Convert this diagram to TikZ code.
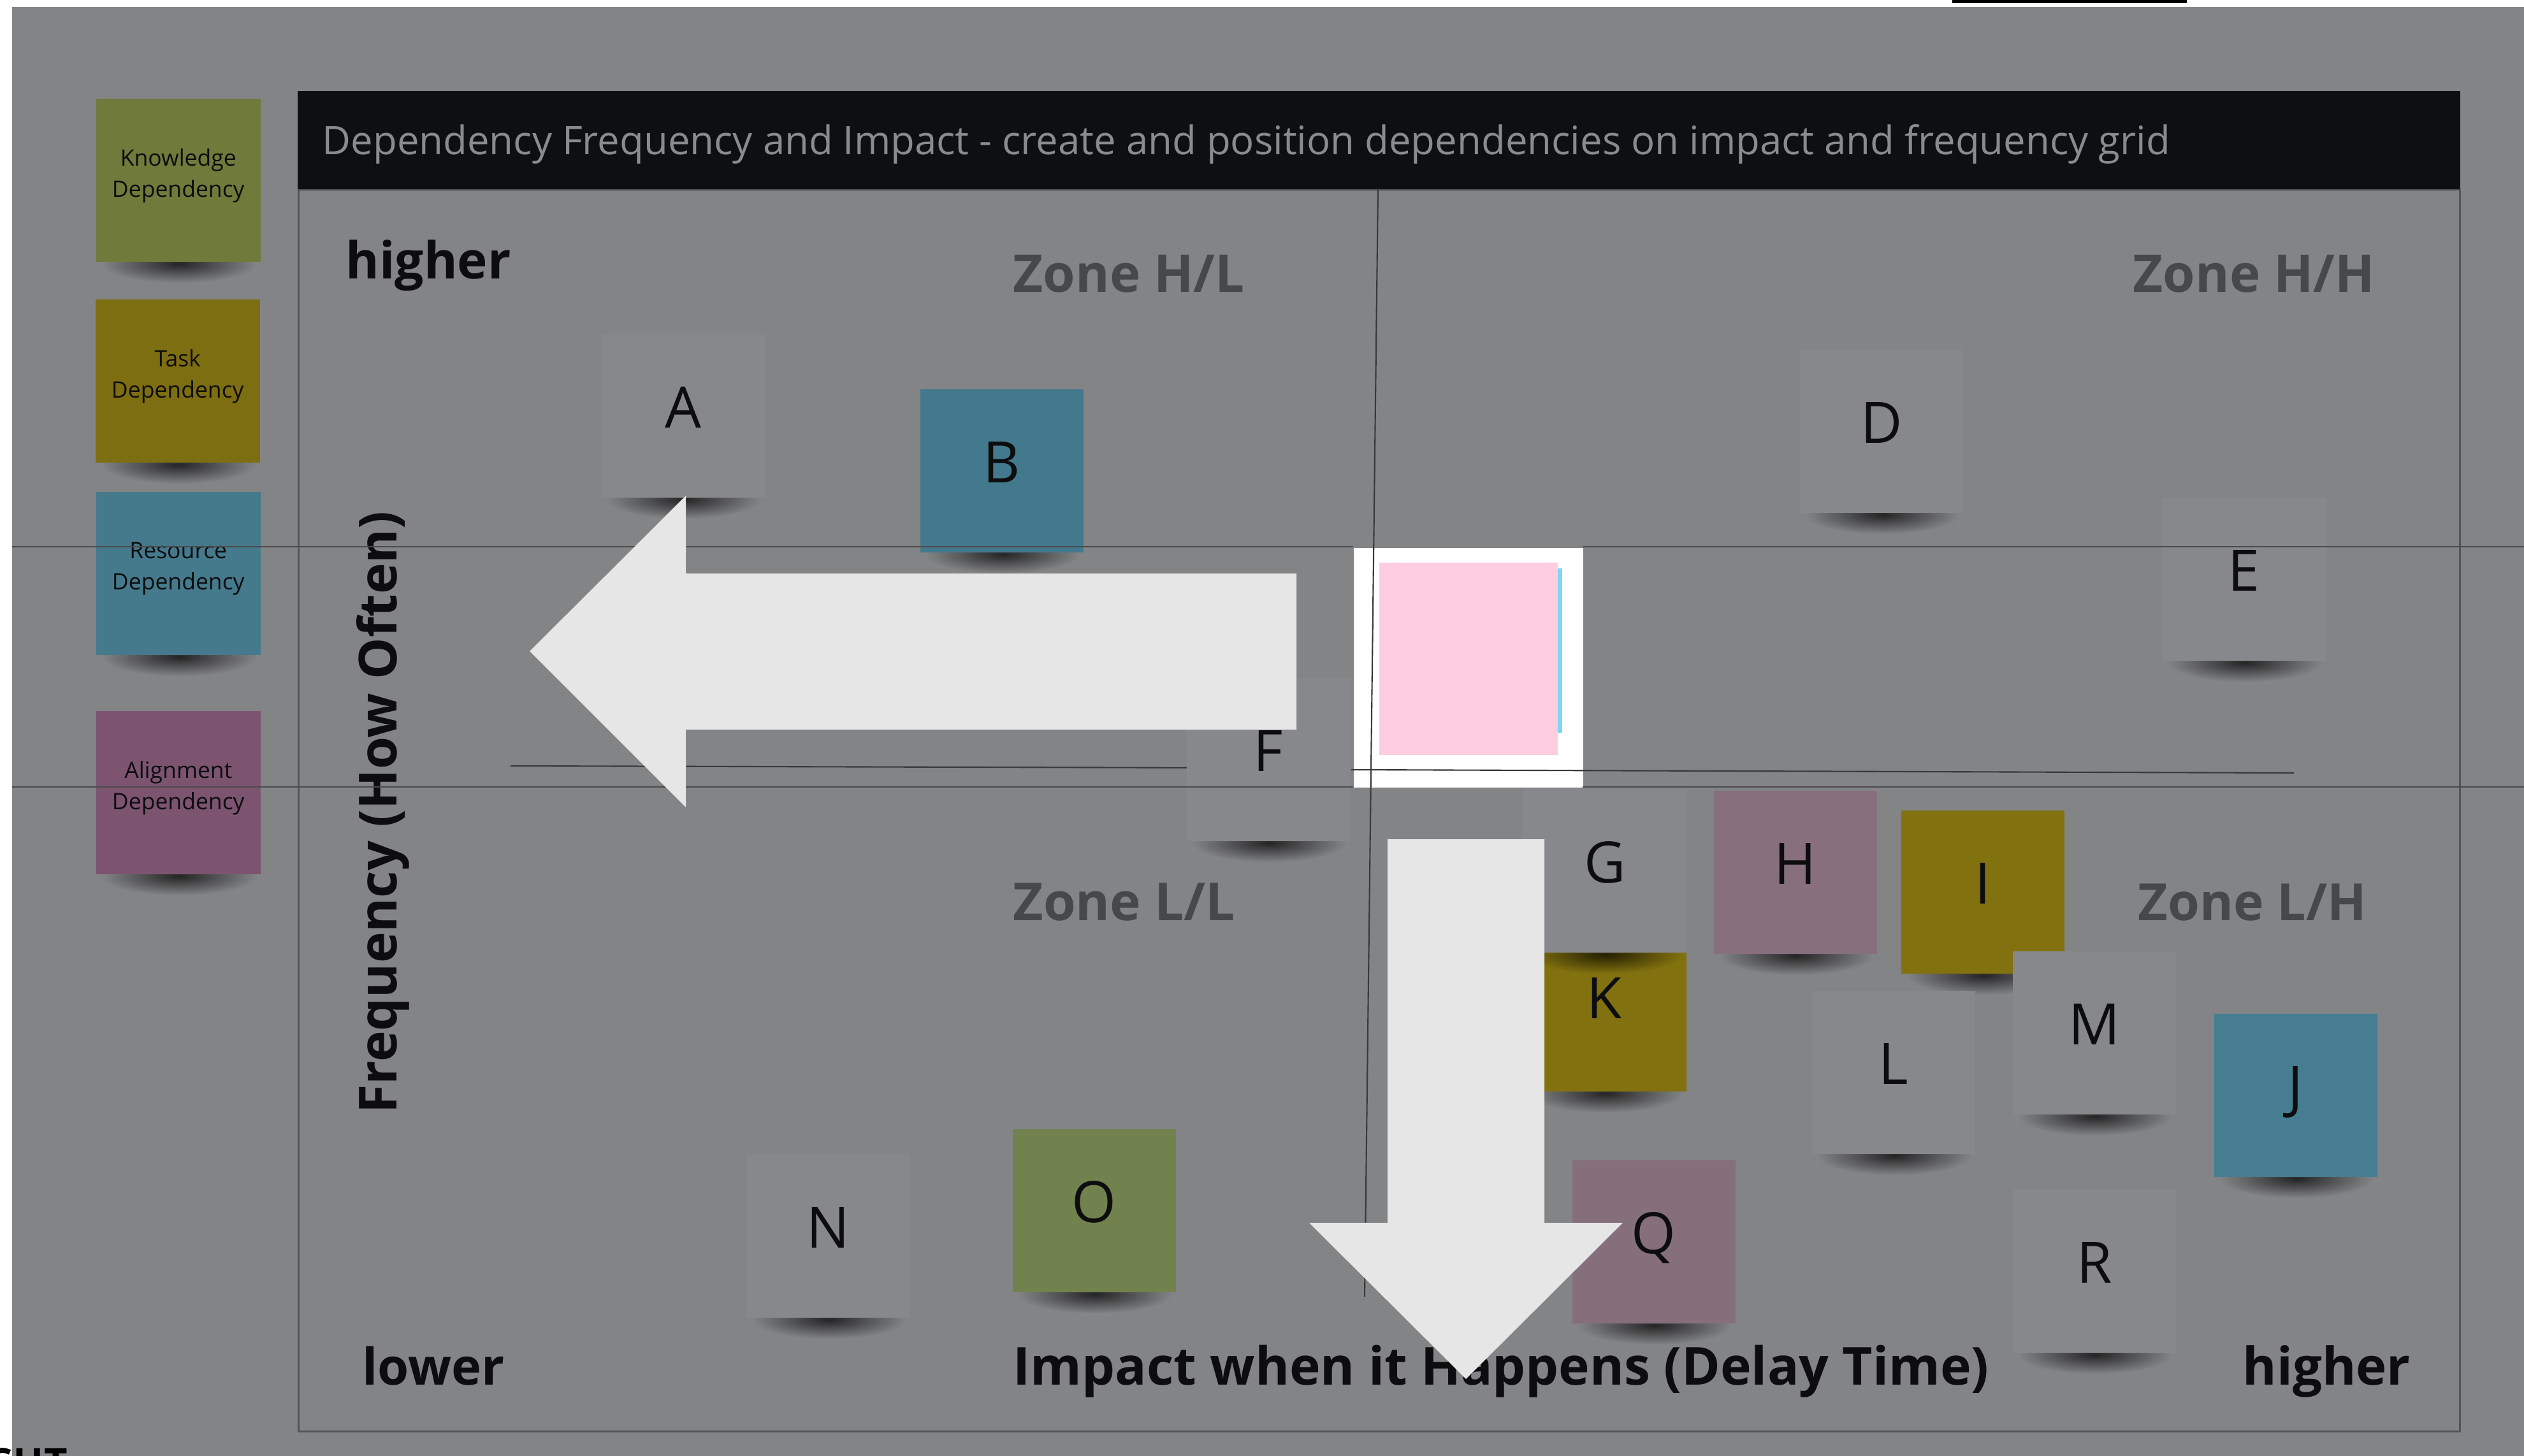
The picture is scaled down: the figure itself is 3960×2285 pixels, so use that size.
\documentclass[tikz,border=0pt]{standalone}
\usepackage{fontspec}
\setmainfont{Open Sans}
\usepackage{graphicx}
\usetikzlibrary{fadings}
\definecolor{bgray}{HTML}{838486}
\definecolor{graystk}{HTML}{86888B}
\definecolor{framec}{HTML}{535456}
\definecolor{headc}{HTML}{0E0F11}
\definecolor{headtxt}{HTML}{8A8B8C}
\definecolor{zonetxt}{HTML}{47484A}
\definecolor{ink}{HTML}{0D0D0F}
\definecolor{arrowc}{HTML}{E6E6E6}
\definecolor{pinkc}{HTML}{FFCDE0}
\definecolor{bluestrip}{HTML}{7DD6F3}
\definecolor{seamc}{HTML}{4A4B4D}
\definecolor{quadc}{HTML}{38393B}
\definecolor{kgreen}{HTML}{6F7A3B}
\definecolor{ogreen}{HTML}{72824E}
\definecolor{tyellow}{HTML}{7E6E12}
\definecolor{iyellow}{HTML}{82710F}
\definecolor{rblue}{HTML}{45798C}
\definecolor{bblue}{HTML}{43798C}
\definecolor{jblue}{HTML}{467D91}
\definecolor{apurple}{HTML}{7C5470}
\definecolor{hpink}{HTML}{886F7D}
\definecolor{qpink}{HTML}{856F7B}
\tikzfading[name=softshadow, inner color=transparent!10, outer color=transparent!100]
\tikzset{
 stk/.style={rectangle, inner sep=0pt, minimum width=2.56cm, minimum height=2.56cm, draw=none},
 lbl/.style={inner sep=0pt, text=ink, font=\fontsize{25.5}{30}\selectfont},
 leg/.style={inner sep=0pt, text=ink, align=center, font=\fontsize{10.1}{13.9}\selectfont},
 boldlbl/.style={inner sep=0pt, text=ink},
 zonelbl/.style={inner sep=0pt, text=zonetxt},
 seam/.style={draw=seamc, line width=0.45pt},
 quad/.style={draw=quadc, line width=0.6pt},
 bigarrow/.style={fill=arrowc, draw=none},
 stkshadow/.style={fill=black, opacity=0.8, path fading=softshadow},
}
\newcommand{\stk}[5]{%
  \fill[stkshadow] (#2+10,#3+230) rectangle (#2+250,#3+290);
  \node[stk, fill=#4, anchor=north west] (#1) at (#2,#3) {};
  \node[lbl, anchor=base] (#1l) at ([yshift=-0.19cm]#1.center) {#5};
}
\newcommand{\lstk}[5]{%
  \fill[stkshadow] (#2+10,#3+230) rectangle (#2+252,#3+290);
  \node[stk, minimum width=2.58cm, fill=#4, anchor=north west] (#1) at (#2,#3) {};
  \node[leg] (#1t) at ([yshift=0.07cm]#1.center) {#5};
}
\begin{document}
\begin{tikzpicture}[x=0.01cm, y=-0.01cm]
\useasboundingbox (0,0) rectangle (3960,2285);
\clip (0,0) rectangle (3960,2285);
% board
\fill[white] (0,0) rectangle (3960,2285);
\fill[bgray] (19,11) rectangle (3960,2285);
\fill[black] (3063,0) rectangle (3431,5);
% header and frame
\fill[headc] (467,143) rectangle (3860,298);
\node[anchor=base west, inner sep=0pt, text=headtxt] (title) at (505,243)
  {\resizebox{28.97cm}{!}{Dependency Frequency and Impact - create and position dependencies on impact and frequency grid}};
\draw[framec, line width=0.85pt] (468,298) rectangle (3859,2246);
% spotlight box
\node[fill=white, anchor=north west, minimum width=3.6cm, minimum height=3.76cm, inner sep=0pt] (spot) at (2123,859) {};
% quadrant lines
\draw[quad] (2162,298) -- (2141,2035);
\draw[quad] (801,1202) -- (1900,1205);
\draw[quad] (2120,1208) -- (3599,1213);
% axis labels
\node[boldlbl, anchor=base west] (hiy) at (542,437) {\resizebox{2.59cm}{!}{\bfseries higher}};
\node[boldlbl, anchor=base west] (lo) at (568,2173) {\resizebox{2.23cm}{!}{\bfseries lower}};
\node[boldlbl, anchor=base west] (imp) at (1589,2173) {\resizebox{15.3cm}{!}{\bfseries Impact when it Happens (Delay Time)}};
\node[boldlbl, anchor=base west] (hix) at (3518,2173) {\resizebox{2.63cm}{!}{\bfseries higher}};
\node[boldlbl, anchor=base, rotate=90] (freq) at (622,1275) {\resizebox{9.45cm}{!}{\bfseries Frequency (How Often)}};
% zone labels
\node[zonelbl, anchor=base west] (zhl) at (1589,458) {\resizebox{3.63cm}{!}{\bfseries Zone H/L}};
\node[zonelbl, anchor=base west] (zhh) at (3346,458) {\resizebox{3.79cm}{!}{\bfseries Zone H/H}};
\node[zonelbl, anchor=base west] (zll) at (1589,1444) {\resizebox{3.48cm}{!}{\bfseries Zone L/L}};
\node[zonelbl, anchor=base west] (zlh) at (3354,1444) {\resizebox{3.58cm}{!}{\bfseries Zone L/H}};
% legend
\lstk{leg1}{150}{154}{kgreen}{Knowledge\\Dependency}
\lstk{leg2}{149}{469}{tyellow}{Task\\Dependency}
\lstk{leg3}{150}{771}{rblue}{Resource\\Dependency}
\lstk{leg4}{150}{1115}{apurple}{Alignment\\Dependency}
% stickies
\stk{A}{943}{524}{graystk}{A}
\stk{B}{1443}{610}{bblue}{B}
\stk{D}{2823}{548}{graystk}{D}
\stk{E}{3392}{780}{graystk}{E}
\stk{F}{1861}{1063}{graystk}{F}
\stk{K}{2389}{1456}{iyellow}{}
\node[lbl, anchor=base] (Kl) at (2517,1598) {K};
\stk{G}{2389}{1238}{graystk}{G}
\stk{H}{2688}{1240}{hpink}{H}
\stk{I}{2982}{1271}{iyellow}{I}
\stk{M}{3157}{1492}{graystk}{M}
\stk{L}{2842}{1554}{graystk}{L}
\stk{J}{3473}{1590}{jblue}{J}
\stk{N}{1171}{1811}{graystk}{N}
\stk{O}{1588}{1771}{ogreen}{O}
\stk{Q}{2466}{1820}{qpink}{Q}
\stk{R}{3157}{1866}{graystk}{R}
% overlay seams
\draw[seam] (19,858) -- (2123,858);
\draw[seam] (2483,858) -- (3960,858);
\draw[seam] (19,1235) -- (2123,1235);
\draw[seam] (2483,1235) -- (3960,1235);
% highlighted sticky
\fill[bluestrip] (2190,892) rectangle (2451,1150);
\node[anchor=north west, fill=pinkc, minimum width=2.8cm, minimum height=3.02cm, inner sep=0pt] (hl) at (2163,882) {};
% big arrows
\fill[bigarrow] (831,1022) -- (1076,778) -- (1076,900) -- (2034,900) -- (2034,1145) -- (1076,1145) -- (1076,1267) -- cycle;
\fill[bigarrow] (2177,1317) -- (2423,1317) -- (2423,1919) -- (2546,1919) -- (2300,2164) -- (2054,1919) -- (2177,1919) -- cycle;
% cut-off text at the bottom edge
\node[anchor=north west, inner sep=0pt, text=black, font=\bfseries\fontsize{18}{20}\selectfont] (frag) at (-15,2272) {SHT};
\end{tikzpicture}
\end{document}
